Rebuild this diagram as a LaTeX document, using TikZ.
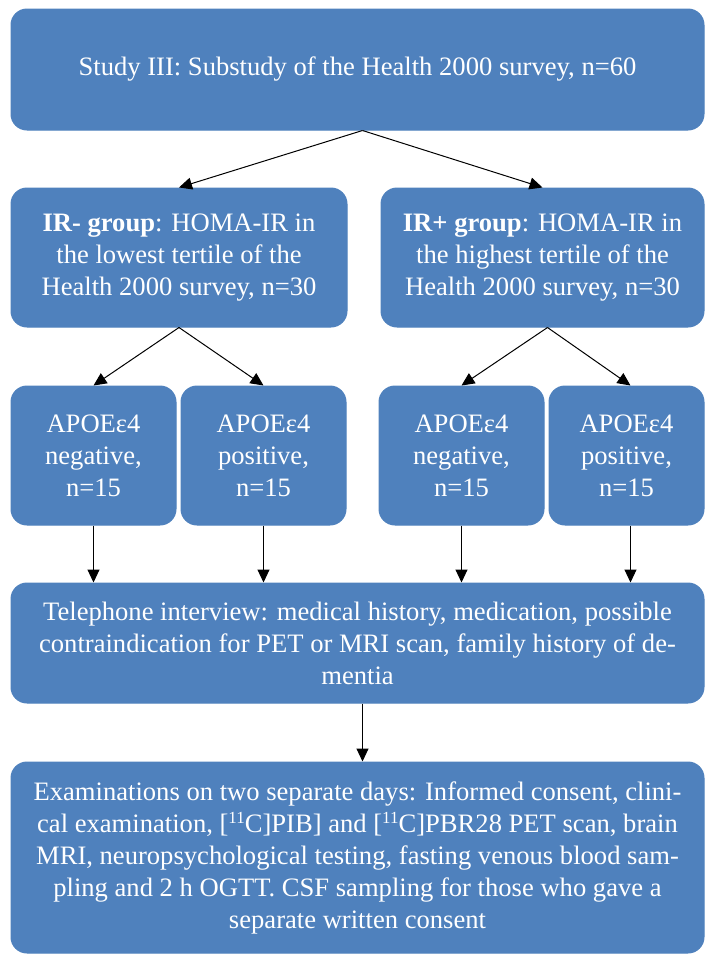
\documentclass[tikz,border=0pt]{standalone}
\usepackage{fontspec}
\setmainfont{Liberation Serif}
\usetikzlibrary{arrows.meta}
\definecolor{boxblue}{RGB}{79, 129, 189}
\newcommand{\isotope}[1]{\raisebox{9pt}{\fontsize{17}{17}\selectfont #1}}
\tikzset{box/.style = {fill = boxblue, draw = boxblue, rounded corners = 16pt,
                       text = white, align = center, inner sep = 0pt,
                       font = \fontsize{26.6}{32}\selectfont},
         >={Triangle[length = 13pt, width = 12pt]}}
\begin{document}
\begin{tikzpicture}[x = 1pt, y = -1pt, line width = 1pt]
      \useasboundingbox (0, 0) rectangle (705, 954);

      \node [box, minimum width = 693pt, minimum height = 121pt] (study) at (357.5, 69.5)
            {Study III: Substudy of the Health 2000 survey, n=60};

      \node [box, minimum width = 336pt, minimum height = 139pt] (irneg) at (179, 257.5)
            {\textbf{IR- group}: HOMA-IR in\\the lowest tertile of the\\Health 2000 survey, n=30};
      \node [box, minimum width = 323pt, minimum height = 139pt] (irpos) at (542.5, 257.5)
            {\textbf{IR+ group}: HOMA-IR in\\the highest tertile of the\\Health 2000 survey, n=30};

      \node [box, minimum width = 165pt, minimum height = 139pt] (negA) at (93.5, 455.5)
            {APOEε4\\negative,\\n=15};
      \node [box, minimum width = 165pt, minimum height = 139pt] (posA) at (263.5, 455.5)
            {APOEε4\\positive,\\n=15};
      \node [box, minimum width = 165pt, minimum height = 139pt] (negB) at (461.5, 455.5)
            {APOEε4\\negative,\\n=15};
      \node [box, minimum width = 155pt, minimum height = 139pt] (posB) at (626.5, 455.5)
            {APOEε4\\positive,\\n=15};

      \node [box, minimum width = 693pt, minimum height = 120pt] (phone) at (357.5, 643)
            {Telephone interview: medical history, medication, possible\\contraindication for PET or MRI scan, family history of de-\\mentia};

      \node [box, minimum width = 693pt, minimum height = 191pt] (exam) at (357.5, 857.5)
            {Examinations on two separate days: Informed consent, clini-\\cal examination, [\isotope{11}C]PIB] and [\isotope{11}C]PBR28 PET scan, brain\\MRI, neuropsychological testing, fasting venous blood sam-\\pling and 2 h OGTT. CSF sampling for those who gave a\\separate written consent};

      \draw [->] ([xshift = 5pt]study.south) -- (irneg.north);
      \draw [->] ([xshift = 5pt]study.south) -- (irpos.north);
      \draw [->] (irneg.south) -- (negA.north);
      \draw [->] (irneg.south) -- (posA.north);
      \draw [->] ([xshift = 5pt]irpos.south) -- (negB.north);
      \draw [->] ([xshift = 5pt]irpos.south) -- ([xshift = 4pt]posB.north);

      \draw [->] (negA.south) -- (negA.south |- phone.north);
      \draw [->] (posA.south) -- (posA.south |- phone.north);
      \draw [->] (negB.south) -- (negB.south |- phone.north);
      \draw [->] ([xshift = 4pt]posB.south) -- ([xshift = 4pt]posB.south |- phone.north);

      \draw [->] ([xshift = 5pt]phone.south) -- ([xshift = 5pt]exam.north);
    \end{tikzpicture}
\end{document}
